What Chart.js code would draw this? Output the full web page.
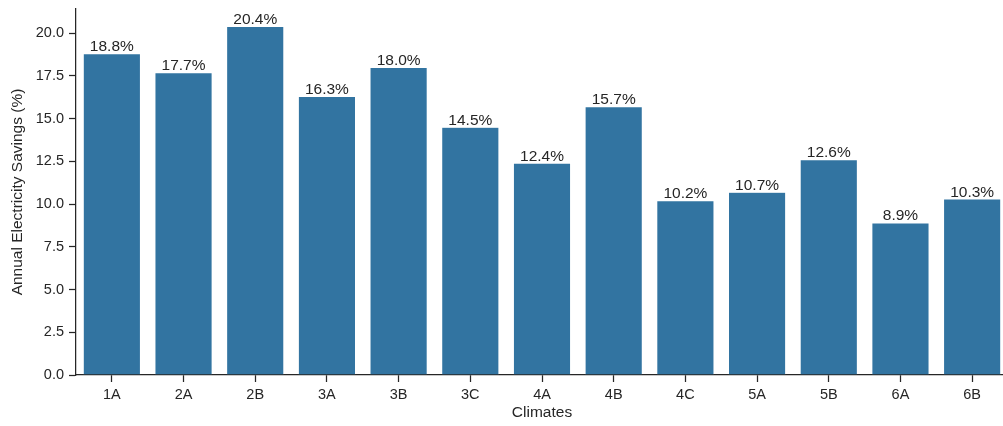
<!DOCTYPE html>
<html>
<head>
<meta charset="utf-8">
<script src="https://cdn.jsdelivr.net/npm/chart.js@4/dist/chart.umd.min.js"></script>
<style>
  html, body { margin: 0; padding: 0; background: #fff; overflow: hidden; }
  #wrap { width: 1010px; height: 426px; }
</style>
</head>
<body>
<div id="wrap"><canvas id="chart"></canvas></div>
<script>
const climates = ['1A', '2A', '2B', '3A', '3B', '3C', '4A', '4B', '4C', '5A', '5B', '6A', '6B'];
const savings = [18.8, 17.7, 20.4, 16.3, 18.0, 14.5, 12.4, 15.7, 10.2, 10.7, 12.6, 8.9, 10.3];

const ink = '#262626';
const fontFamily = '"Liberation Sans", Arial, sans-serif';

// writes "xx.x%" above every bar
const barLabels = {
    id: 'barLabels',
    afterDatasetsDraw(chart) {
        const ctx = chart.ctx;
        const meta = chart.getDatasetMeta(0);
        ctx.save();
        ctx.font = '15.5px ' + fontFamily;
        ctx.fillStyle = ink;
        ctx.textAlign = 'center';
        ctx.textBaseline = 'bottom';
        meta.data.forEach((bar, i) => {
            ctx.fillText(savings[i].toFixed(1) + '%', bar.x, bar.y + 1);
        });
        ctx.restore();
    }
};

let ctx = document.getElementById('chart');

new Chart(ctx, {
    type: 'bar',
    data: {
        labels: climates,
        datasets: [{
            data: savings,
            backgroundColor: '#3274a1',
            borderColor: 'rgba(255,255,255,0.35)',
            borderWidth: 0.6,
            barPercentage: 0.8,
            categoryPercentage: 1.0
        }]
    },
    options: {
        responsive: true,
        maintainAspectRatio: false,
        animation: false,
        layout: { padding: { left: 0, top: 9, right: 2, bottom: 0 } },
        plugins: {
            legend: { display: false },
            tooltip: { enabled: false }
        },
        scales: {
            x: {
                grid: { offset: false, drawOnChartArea: false, drawTicks: true, tickLength: 7, tickColor: ink, tickWidth: 1.25 },
                border: { display: true, color: ink, width: 1.25 },
                ticks: { color: ink, font: { family: fontFamily, size: 14.5 }, padding: 4 },
                title: { display: true, text: 'Climates', color: ink, font: { family: fontFamily, size: 15.5 }, padding: { top: 2 } },
                afterFit: s => { s.height = 51; s.paddingLeft = 0; s.paddingRight = 0; }
            },
            y: {
                min: 0,
                max: 21.42,
                grid: { drawOnChartArea: false, drawTicks: true, tickLength: 7, tickColor: ink, tickWidth: 1.25 },
                border: { display: true, color: ink, width: 1.25 },
                ticks: {
                    stepSize: 2.5,
                    includeBounds: false,
                    color: ink,
                    font: { family: fontFamily, size: 14.5 },
                    padding: 5,
                    callback: v => v.toFixed(1)
                },
                title: { display: true, text: 'Annual Electricity Savings (%)', color: ink, font: { family: fontFamily, size: 15.5 }, padding: { top: 8, bottom: 4 } },
                afterFit: s => { s.width = 76; s.paddingTop = 0; s.paddingBottom = 0; }
            }
        }
    },
    plugins: [barLabels]
});
</script>
</body>
</html>
